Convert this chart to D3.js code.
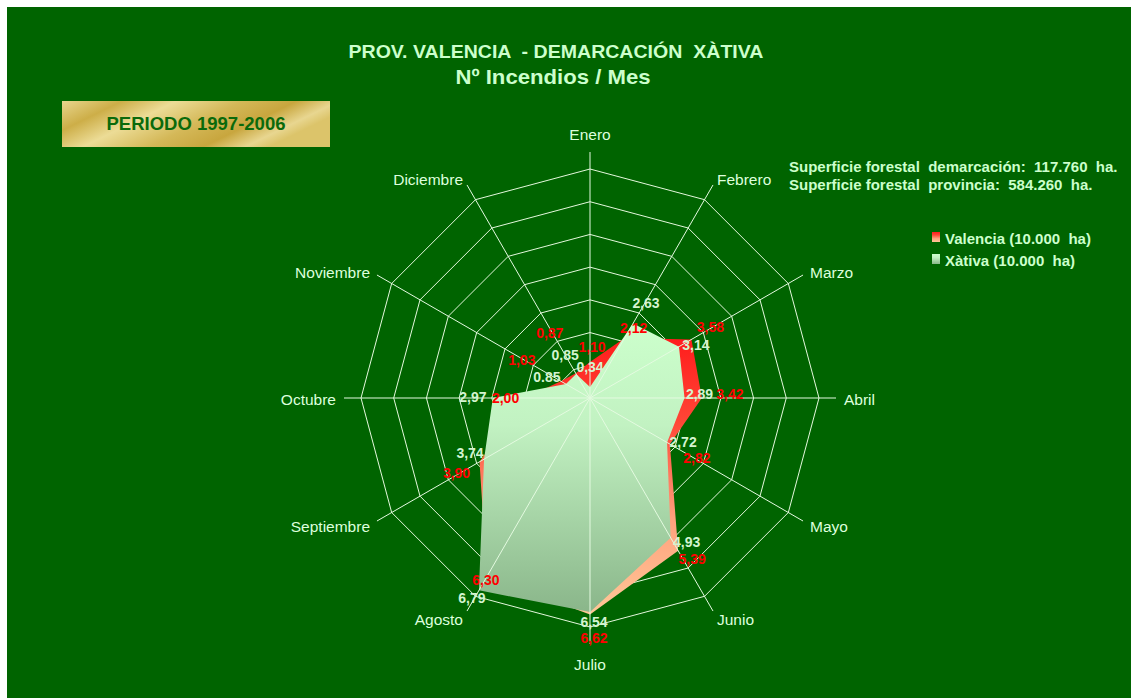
<!DOCTYPE html>
<html>
<head>
<meta charset="utf-8">
<title>Nº Incendios / Mes</title>
<script src="https://cdn.jsdelivr.net/npm/d3@7"></script>
<style>
    body { margin: 0; background: #fff; }
    svg text { font-family: "Liberation Sans", Arial, sans-serif; white-space: pre; }
</style>
</head>
<body>
<div id="chart"></div>
<script>
/* eslint-env browser  */

// datos
var meses = ["Enero", "Febrero", "Marzo", "Abril", "Mayo", "Junio", "Julio",
    "Agosto", "Septiembre", "Octubre", "Noviembre", "Diciembre"];
var valencia = [1.10, 2.12, 3.58, 3.42, 2.82, 5.39, 6.62, 6.30, 3.90, 2.00, 1.03, 0.87];
var xativa = [0.34, 2.63, 3.14, 2.89, 2.72, 4.93, 6.54, 6.79, 3.74, 2.97, 0.85, 0.85];
var valenciaLabels = ["1,10", "2,12", "3,58", "3,42", "2,82", "5,39", "6,62", "6,30", "3,90", "2,00", "1,03", "0,87"];
var xativaLabels = ["0,34", "2,63", "3,14", "2,89", "2,72", "4,93", "6,54", "6,79", "3,74", "2,97", "0.85", "0,85"];
var ringTicks = [1, 2, 3, 4, 5, 6, 7];
var seriesNames = ["Valencia (10.000  ha)", "Xàtiva (10.000  ha)"];

// desplazamiento de las etiquetas respecto al punto (como en el original)
var valenciaNudge = [[2, -15], [9, -10], [19, -12], [28, -4], [27, 14], [14, 8], [4, 24], [-1, 4], [-23, 11], [-19, 0], [-39, -21], [-26, -40]];
var xativaNudge = [[0, -20], [13, -20], [17, -2], [15, -4], [16, 0], [16, 4], [4, 10], [-7, 8], [-14, -6], [-20, -1], [-19, -7], [-11, -19]];

var width = 1131, height = 698;
var cx = 590, cy = 398, radius = 229;
var light = "#ccffcc";

var svg = d3.select("#chart").append("svg")
    .attr("width", width)
    .attr("height", height);

var defs = svg.append("defs");

function addGradient(id, x1, y1, x2, y2, stops) {
    var g = defs.append("linearGradient").attr("id", id)
        .attr("x1", x1).attr("y1", y1).attr("x2", x2).attr("y2", y2);
    stops.forEach(function (s) {
        g.append("stop").attr("offset", s[0]).attr("stop-color", s[1]);
    });
}
addGradient("gValencia", 0, 0, 0, 1, [[0, "#ff1c1c"], [0.3, "#ff4636"], [0.65, "#ffa07c"], [1, "#ffc898"]]);
addGradient("gXativa", 0, 0, 0, 1, [[0, "#ccffcc"], [0.35, "#c2f2c2"], [1, "#8ab68a"]]);
addGradient("gGold", 0, 0, 1, 0.35, [[0, "#e8d68e"], [0.2, "#cdae48"], [0.38, "#ecdc96"], [0.6, "#d4b858"],
    [0.78, "#c8a63e"], [0.92, "#e8d690"], [1, "#dcc46a"]]);

// fondo verde
svg.append("rect")
    .attr("x", 7).attr("y", 7)
    .attr("width", width - 7).attr("height", height - 7)
    .attr("fill", "#006400");

var r = d3.scaleLinear().domain([0, 7]).range([0, radius]);
var angle = d3.scaleBand().domain(meses).range([0, 2 * Math.PI]).align(0).paddingInner(0).paddingOuter(0);

function ang(m) { return angle(m); }
function px(m, v) { return cx + r(v) * Math.sin(ang(m)); }
function py(m, v) { return cy - r(v) * Math.cos(ang(m)); }

var plot = svg.append("g");

// anillos
var lineRadial = d3.lineRadial()
    .angle(function (d) { return ang(d[0]); })
    .radius(function (d) { return r(d[1]); })
    .curve(d3.curveLinearClosed);

plot.selectAll(".ring")
    .data(ringTicks)
    .enter()
    .append("path")
    .attr("class", "ring")
    .attr("transform", "translate(" + cx + "," + cy + ")")
    .attr("d", function (t) {
        return lineRadial(meses.map(function (m) { return [m, t]; }));
    })
    .attr("fill", "none")
    .attr("stroke", "#e4f8dc")
    .attr("stroke-width", 1);

// areas
function areaOf(values) {
    return lineRadial(meses.map(function (m, i) { return [m, values[i]]; }));
}
plot.append("path")
    .attr("transform", "translate(" + cx + "," + cy + ")")
    .attr("d", areaOf(valencia))
    .attr("fill", "url(#gValencia)");
plot.append("path")
    .attr("transform", "translate(" + cx + "," + cy + ")")
    .attr("d", areaOf(xativa))
    .attr("fill", "url(#gXativa)");

// radios (por encima)
var spokeMax = 7 + 17 / radius * 7;
plot.selectAll(".spoke")
    .data(meses)
    .enter()
    .append("line")
    .attr("class", "spoke")
    .attr("x1", cx).attr("y1", cy)
    .attr("x2", function (m) { return px(m, spokeMax); })
    .attr("y2", function (m) { return py(m, spokeMax); })
    .attr("stroke", "#e4fae0")
    .attr("stroke-width", 1);

// etiquetas de meses
function isVertical(m) { return Math.abs(Math.sin(ang(m))) < 0.01; }
plot.selectAll(".mes")
    .data(meses)
    .enter()
    .append("text")
    .attr("class", "mes")
    .attr("x", function (m) {
        return cx + 254 * Math.sin(ang(m));
    })
    .attr("y", function (m) {
        var c = Math.cos(ang(m));
        var extra = isVertical(m) ? 11 : 0;
        return cy - (254 + extra) * c + 2;
    })
    .attr("dy", "0.35em")
    .attr("text-anchor", function (m) {
        var s = Math.sin(ang(m));
        return isVertical(m) ? "middle" : (s > 0 ? "start" : "end");
    })
    .attr("font-size", 15.5)
    .attr("fill", "#ddffdd")
    .text(function (m) { return m; });

// etiquetas de datos
function dataLabels(values, labels, nudge, color) {
    plot.append("g").selectAll("text")
        .data(values)
        .enter()
        .append("text")
        .attr("x", function (v, i) { return px(meses[i], v) + nudge[i][0]; })
        .attr("y", function (v, i) { return py(meses[i], v) + nudge[i][1]; })
        .attr("dy", "0.35em")
        .attr("text-anchor", "middle")
        .attr("font-size", 14)
        .attr("font-weight", "bold")
        .attr("fill", color)
        .text(function (v, i) { return labels[i]; });
}
dataLabels(xativa, xativaLabels, xativaNudge, "#d4f4d0");
dataLabels(valencia, valenciaLabels, valenciaNudge, "#ff0000");

// titulo
svg.append("text")
    .attr("x", 556).attr("y", 58)
    .attr("text-anchor", "middle")
    .attr("font-size", 18).attr("font-weight", "bold")
    .attr("textLength", 415).attr("lengthAdjust", "spacingAndGlyphs")
    .attr("fill", light)
    .text("PROV. VALENCIA  - DEMARCACIÓN  XÀTIVA");
svg.append("text")
    .attr("x", 553).attr("y", 84)
    .attr("text-anchor", "middle")
    .attr("font-size", 21).attr("font-weight", "bold")
    .attr("textLength", 195).attr("lengthAdjust", "spacingAndGlyphs")
    .attr("fill", light)
    .text("Nº Incendios / Mes");

// caja periodo
svg.append("rect")
    .attr("x", 62).attr("y", 101)
    .attr("width", 268).attr("height", 46)
    .attr("fill", "url(#gGold)");
svg.append("text")
    .attr("x", 196).attr("y", 124)
    .attr("dy", "0.35em")
    .attr("text-anchor", "middle")
    .attr("font-size", 18.5).attr("font-weight", "bold")
    .attr("fill", "#0b6a0b")
    .text("PERIODO 1997-2006");

// superficie
svg.append("text")
    .attr("x", 789).attr("y", 172)
    .attr("font-size", 15).attr("font-weight", "bold")
    .attr("fill", light)
    .text("Superficie forestal  demarcación:  117.760  ha.");
svg.append("text")
    .attr("x", 789).attr("y", 190)
    .attr("font-size", 15).attr("font-weight", "bold")
    .attr("fill", light)
    .text("Superficie forestal  provincia:  584.260  ha.");

// leyenda
var legend = svg.append("g").attr("transform", "translate(932,232)");
var fills = ["url(#gValencia)", "url(#gXativa)"];
seriesNames.forEach(function (name, i) {
    legend.append("rect")
        .attr("x", 0).attr("y", i * 22)
        .attr("width", 8).attr("height", 10)
        .attr("fill", fills[i]);
    legend.append("text")
        .attr("x", 13).attr("y", i * 22 + 7)
        .attr("dy", "0.35em")
        .attr("font-size", 15).attr("font-weight", "bold")
        .attr("fill", light)
        .text(name);
});
</script>
</body>
</html>
